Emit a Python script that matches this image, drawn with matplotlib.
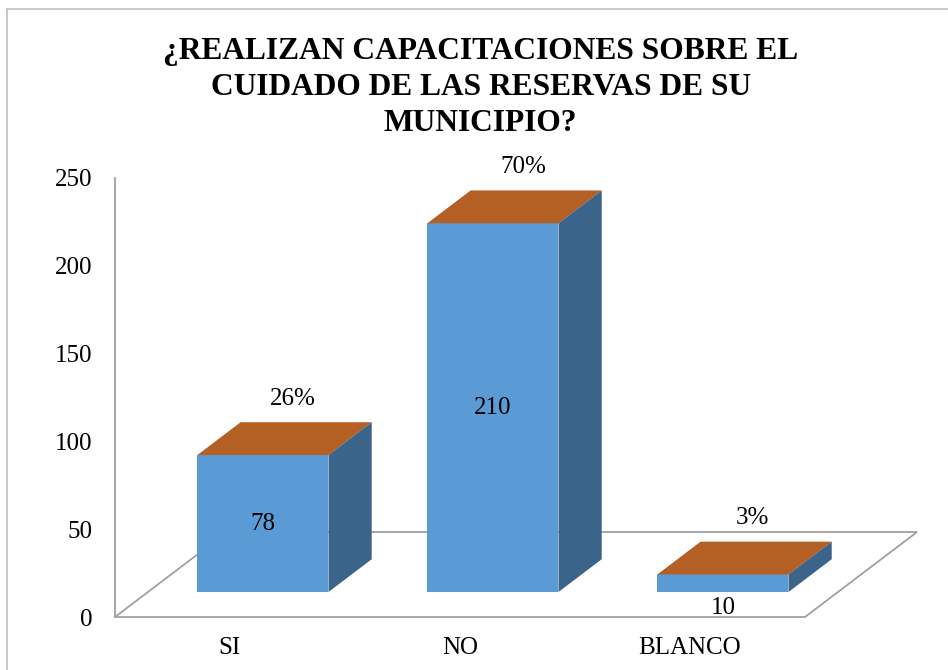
import matplotlib.pyplot as plt
from matplotlib.patches import Polygon
from matplotlib.lines import Line2D

plt.rcParams["font.family"] = ["Liberation Serif", "DejaVu Serif"]

categorias = ["SI", "NO", "BLANCO"]
frecuencias = [78, 210, 10]
porcentajes = ["26%", "70%", "3%"]
y_ticks = [0, 50, 100, 150, 200, 250]

titulo = "¿REALIZAN CAPACITACIONES SOBRE EL\nCUIDADO DE LAS RESERVAS DE SU\nMUNICIPIO?"

azul = "#5B9BD5"
azul_lado = "#3A6489"
naranja = "#B45F23"
gris = "#A0A0A0"

# fake 3d: depth vector of the floor, in data units (x: categories, y: values)
DX, DY = 0.487, 48.4
F0, F1 = 0.294, 0.68   # front / back of the bars as fraction of the depth
ANCHO = 0.57

fig = plt.figure(figsize=(9.48, 6.70), dpi=100)
ax = fig.add_axes([115 / 948, 53 / 670, 815 / 948, 439 / 670])
ax.set_xlim(0, 815 / 230)
ax.set_ylim(0, 250)

for s in ["top", "right", "bottom"]:
    ax.spines[s].set_visible(False)
ax.spines["left"].set_color(gris)
ax.spines["left"].set_linewidth(1.3)
ax.set_xticks([])
ax.set_yticks(y_ticks)
ax.tick_params(axis="y", length=0, pad=16.5, labelsize=18)

# floor
n = len(categorias)
piso = Polygon([(0, 0), (n, 0), (n + DX, DY), (DX, DY)], closed=True,
               facecolor="none", edgecolor=gris, lw=1.3, clip_on=False, zorder=1)
ax.add_patch(piso)

base = F0 * DY
ddx, ddy = (F1 - F0) * DX, (F1 - F0) * DY
x_front = [i + 0.5 + F0 * DX for i in range(n)]

ax.bar(x_front, frecuencias, width=ANCHO, bottom=base, color=azul,
       zorder=3, clip_on=False)

for xc, v, pct in zip(x_front, frecuencias, porcentajes):
    xl, xr = xc - ANCHO / 2, xc + ANCHO / 2
    yt = base + v
    tapa = Polygon([(xl, yt), (xr, yt), (xr + ddx, yt + ddy), (xl + ddx, yt + ddy)],
                   closed=True, facecolor=naranja, edgecolor="none",
                   clip_on=False, zorder=3)
    lado = Polygon([(xr, base), (xr, yt), (xr + ddx, yt + ddy), (xr + ddx, base + ddy)],
                   closed=True, facecolor=azul_lado, edgecolor="none",
                   clip_on=False, zorder=3)
    ax.add_patch(tapa)
    ax.add_patch(lado)

    if v < 20:
        y_lab = base - 9
    else:
        y_lab = base + v / 2
    ax.text(xc, y_lab, str(v), ha="center", va="center", fontsize=18, zorder=4)
    ax.text(xc + 0.13, yt + 32, pct, ha="center", va="center", fontsize=18,
            clip_on=False, zorder=4)

for i, cat in enumerate(categorias):
    ax.text(i + 0.5, -17.7, cat, ha="center", va="center", fontsize=18,
            clip_on=False)

fig.text(0.507, 1 - 37 / 670, titulo, ha="center", va="top", fontsize=22.7,
         fontweight="bold", linespacing=1.31)

# chart border
fig.add_artist(Line2D([7 / 948, 7 / 948], [0, 1 - 9 / 670], color="#BFBFBF", lw=1.2))
fig.add_artist(Line2D([7 / 948, 1], [1 - 9 / 670, 1 - 9 / 670], color="#BFBFBF", lw=1.2))

fig.savefig("out.png", dpi=100)
